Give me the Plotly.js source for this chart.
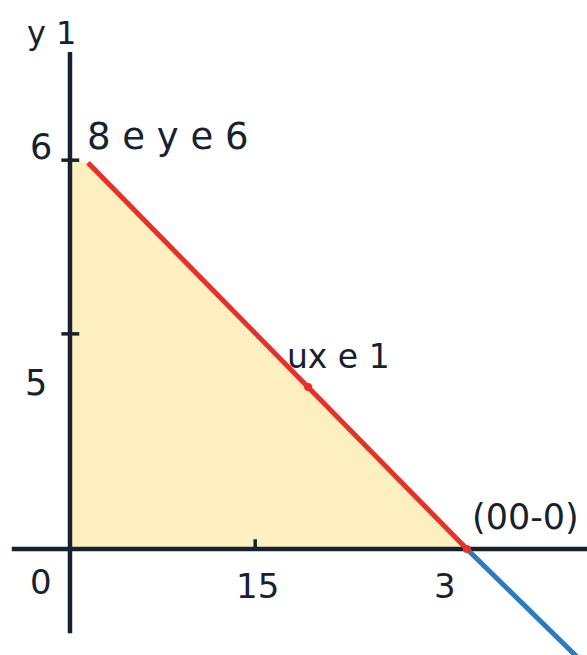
<!DOCTYPE html>
<html>
<head>
<meta charset="utf-8">
<script src="https://cdn.plot.ly/plotly-3.0.1.min.js"></script>
<style>
  html, body { margin: 0; padding: 0; background: #ffffff; }
  #chart { width: 587px; height: 655px; }
</style>
</head>
<body>
<div id="chart"></div>
<script>
(function () {
  "use strict";

  // Region under the boundary line (shaded triangle).
  var regionX = [0, 0, 0.136, 3, 0];
  var regionY = [0, 6.0, 5.96, 0, 0];

  // Boundary segment (red) and its continuation past the intercept (blue).
  var boundaryX = [0.136, 3];
  var boundaryY = [5.96, 0];
  var extensionX = [3, 3.95];
  var extensionY = [0, -1.9];

  // Marked points on the boundary.
  var pointX = [1.8, 3];
  var pointY = [2.5, 0];

  // Tick marks on the axes.
  var yTicks = [6, 3.32];
  var xTicks = [1.4];

  var INK = "#17212f";
  var RED = "#e8302a";
  var BLUE = "#2a7bbf";
  var FILL = "#fdefbf";
  var FONT = "'DejaVu Sans', sans-serif";

  var traces = [];

  traces.push({
    type: "scatter", mode: "lines", x: regionX, y: regionY,
    fill: "toself", fillcolor: FILL, line: { width: 0 },
    hoverinfo: "skip", showlegend: false
  });

  // Axis lines
  traces.push({
    type: "scatter", mode: "lines", x: [-0.44, 3.95], y: [0, 0],
    line: { color: INK, width: 4.5 }, hoverinfo: "skip", showlegend: false
  });
  traces.push({
    type: "scatter", mode: "lines", x: [0, 0], y: [-1.3, 7.67],
    line: { color: INK, width: 4.5 }, hoverinfo: "skip", showlegend: false
  });

  // Tick marks
  yTicks.forEach(function (v) {
    traces.push({
      type: "scatter", mode: "lines", x: [-0.065, 0.07], y: [v, v],
      line: { color: INK, width: 3.5 }, hoverinfo: "skip", showlegend: false
    });
  });
  xTicks.forEach(function (v) {
    traces.push({
      type: "scatter", mode: "lines", x: [v, v], y: [0, 0.15],
      line: { color: INK, width: 3.5 }, hoverinfo: "skip", showlegend: false
    });
  });

  // Label sitting under the boundary line
  traces.push({
    type: "scatter", mode: "text", x: [1.64], y: [2.92],
    text: ["ux e 1"], textposition: "middle right",
    textfont: { family: FONT, size: 33, color: INK },
    hoverinfo: "skip", showlegend: false
  });

  traces.push({
    type: "scatter", mode: "lines", x: extensionX, y: extensionY,
    line: { color: BLUE, width: 5 }, hoverinfo: "skip", showlegend: false
  });
  traces.push({
    type: "scatter", mode: "lines", x: boundaryX, y: boundaryY,
    line: { color: RED, width: 5 }, hoverinfo: "skip", showlegend: false
  });
  traces.push({
    type: "scatter", mode: "markers", x: pointX, y: pointY,
    marker: { color: RED, size: 8 }, hoverinfo: "skip", showlegend: false
  });

  function label(text, x, y, xanchor, size) {
    return {
      x: x, y: y, text: text, showarrow: false,
      xanchor: xanchor || "center", yanchor: "middle",
      font: { family: FONT, size: size || 34, color: INK }
    };
  }

  var layout = {
    width: 587,
    height: 655,
    autosize: false,
    margin: { l: 0, r: 0, t: 0, b: 0 },
    paper_bgcolor: "#ffffff",
    plot_bgcolor: "#ffffff",
    showlegend: false,
    xaxis: { range: [-0.529, 3.908], visible: false, fixedrange: true },
    yaxis: { range: [-1.636, 8.472], visible: false, fixedrange: true },
    annotations: [
      label("y 1", -0.14, 7.96, "center", 32),
      label("6", -0.219, 6.2, "center", 35),
      label("8 e y e 6", 0.11, 6.37, "left", 37),
      label("5", -0.257, 2.56, "center", 35),
      label("0", -0.219, -0.51),
      label("15", 1.421, -0.57),
      label("3", 2.834, -0.57),
      label("(00-0)", 3.02, 0.49, "left", 35)
    ]
  };

  Plotly.newPlot("chart", traces, layout, { displayModeBar: false, staticPlot: true });
})();
</script>
</body>
</html>
